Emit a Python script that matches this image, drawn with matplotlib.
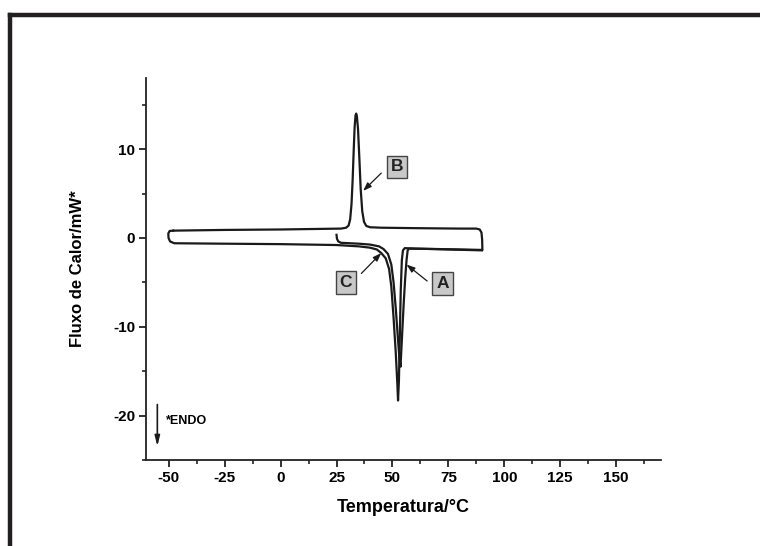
import matplotlib
matplotlib.use("Agg")
import matplotlib.pyplot as plt
from matplotlib.lines import Line2D
from matplotlib.ticker import MultipleLocator

plt.rcParams['font.family'] = ['Liberation Sans', 'DejaVu Sans']
plt.rcParams['font.weight'] = 'bold'
plt.rcParams['axes.unicode_minus'] = False

# curve B: cooling run 90 -> -50 (crystallisation peak)
b_temp = [90.2, 90.1, 89.8, 89.0, 87.5, 80, 60, 45, 40, 38.3, 37.3, 36.5, 35.8, 35.2,
          34.6, 34.1, 33.8, 33.5, 33.1, 32.7, 32.2, 31.7, 31.1, 30.4, 29.3, 27, 0, -25, -48]
b_flux = [-1.3, -0.2, 0.6, 0.95, 1.05, 1.05, 1.1, 1.15, 1.2, 1.35, 1.8, 3.0, 5.5, 9.0,
          12.3, 13.7, 14.0, 13.8, 12.5, 10.0, 6.5, 3.8, 2.1, 1.4, 1.15, 1.05, 0.95, 0.9, 0.82]

# curve C: heating run -50 -> 90
c_temp = [-48, -49.6, -50.2, -50.1, -49.4, -47.5, -25, 0, 25, 35, 40, 43, 45, 47, 48.5,
          49.5, 50.5, 51.5, 52.2, 52.5, 52.9, 53.3, 53.7, 54.2, 54.7, 55.5, 60, 75, 90]
c_flux = [0.82, 0.78, 0.5, 0.0, -0.4, -0.6, -0.65, -0.7, -0.8, -0.95, -1.1, -1.3, -1.7,
          -2.3, -3.5, -5.5, -9.0, -13.0, -16.5, -18.3, -16.0, -11.0, -6.0, -2.5, -1.4,
          -1.15, -1.2, -1.3, -1.4]

# curve A: heating run 25 -> 90
a_temp = [25.0, 25.2, 25.8, 27.0, 35, 40, 44, 46, 48, 49.5, 50.5, 51.5, 52.5, 53.1, 53.6,
          54.3, 55.0, 55.7, 56.3, 56.8, 57.5, 70, 90]
a_flux = [0.35, -0.1, -0.4, -0.55, -0.65, -0.75, -0.95, -1.25, -1.8, -3.0, -5.0, -8.0,
          -11.5, -13.5, -14.5, -11.0, -7.5, -4.5, -2.5, -1.4, -1.2, -1.25, -1.35]

labels = ['A', 'B', 'C']
label_pos = [(72.4, -5.1), (52.0, 8.0), (29.1, -5.0)]
arrow_tail = [(65.5, -4.85), (45.0, 7.3), (36.1, -4.0)]
arrow_head = [(56.3, -3.0), (36.9, 5.3), (45.0, -1.7)]

fig = plt.figure(figsize=(7.6, 5.46), dpi=100)
ax = fig.add_axes([0.1926, 0.1575, 0.677, 0.6996])

lc = '#1a1a1a'
for t, f in [(b_temp, b_flux), (c_temp, c_flux), (a_temp, a_flux)]:
    ax.plot(t, f, color=lc, lw=1.6, solid_joinstyle='round')

for lab, pos, tail, head in zip(labels, label_pos, arrow_tail, arrow_head):
    ax.annotate('', xy=head, xytext=tail,
                arrowprops=dict(arrowstyle='-|>,head_length=0.5,head_width=0.18',
                                color=lc, lw=0.9, shrinkA=0, shrinkB=0))
    ax.text(pos[0], pos[1], lab, ha='center', va='center', fontsize=12.5, fontweight='bold',
            color='#222222',
            bbox=dict(boxstyle='square,pad=0.22', fc='#c8c8c8', ec='#444444', lw=1.0))

# endo arrow
ax.annotate('', xy=(-55.1, -23.45), xytext=(-55.1, -18.75),
            arrowprops=dict(arrowstyle='-|>,head_length=0.6,head_width=0.15',
                            color=lc, lw=1.2, shrinkA=0, shrinkB=0))
ax.text(-51.3, -20.6, '*ENDO', fontsize=9, fontweight='bold', va='center', ha='left')

ax.set_xlim(-60, 170)
ax.set_ylim(-25, 18)
ax.xaxis.set_minor_locator(MultipleLocator(12.5))
ax.yaxis.set_major_locator(MultipleLocator(10))
ax.yaxis.set_minor_locator(MultipleLocator(5))
ax.set_xticks([-50, -25, 0, 25, 50, 75, 100, 125, 150])
ax.spines['top'].set_visible(False)
ax.spines['right'].set_visible(False)
for s in ['left', 'bottom']:
    ax.spines[s].set_linewidth(1.3)
    ax.spines[s].set_color('#222222')
ax.tick_params(which='major', length=5, width=1.3, labelsize=11, color='#222222', pad=3)
ax.tick_params(which='minor', length=3, width=1.2, color='#222222')
for lab in ax.get_xticklabels() + ax.get_yticklabels():
    lab.set_fontweight('bold')

ax.set_xlabel('Temperatura/°C', fontsize=13, fontweight='bold', labelpad=10)
ax.set_ylabel('Fluxo de Calor/mW*', fontsize=12, fontweight='bold', labelpad=20)

# thick frame of the original picture (left and top edges)
fig.add_artist(Line2D([0.0136, 0.0136], [0.0, 0.973], color='#231f20', lw=3.2,
                      solid_capstyle='projecting', transform=fig.transFigure))
fig.add_artist(Line2D([0.0136, 1.0], [0.973, 0.973], color='#231f20', lw=3.2,
                      solid_capstyle='projecting', transform=fig.transFigure))

fig.savefig('out.png', dpi=100)
